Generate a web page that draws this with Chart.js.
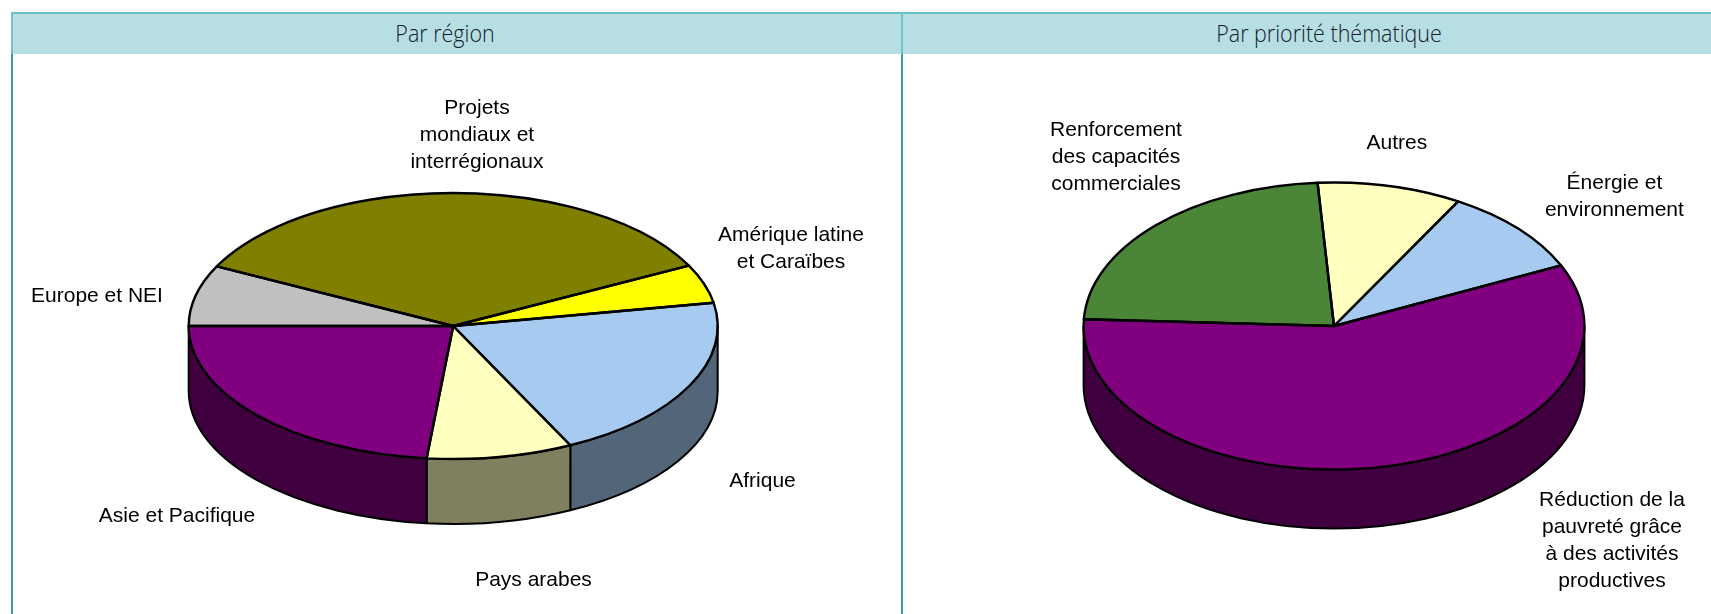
<!DOCTYPE html>
<html lang="fr">
<head>
<meta charset="utf-8">
<title>Par région / Par priorité thématique</title>
<script src="https://cdn.jsdelivr.net/npm/chart.js@4"></script>
<style>
html,body{margin:0;padding:0;width:1711px;height:614px;overflow:hidden;background:#fff}
canvas{position:absolute;left:0;top:0}
.band{position:absolute;left:11px;top:12px;width:1700px;height:42px;background:#b7dfe3}
.line{position:absolute}
.title{position:absolute;top:18px;width:300px;text-align:center;font:300 24px/30px "Open Sans",sans-serif;color:#10202a;transform:scaleX(.895);white-space:nowrap}
</style>
</head>
<body>
<div class="band"></div>
<div class="line" style="left:11px;top:12px;width:1700px;height:2px;background:#6bbfc6"></div>
<div class="line" style="left:11px;top:12px;width:2px;height:42px;background:#72c3c9"></div>
<div class="line" style="left:901px;top:12px;width:2px;height:42px;background:#72c3c9"></div>
<div class="line" style="left:11px;top:54px;width:2px;height:560px;background:#3a9ba7"></div>
<div class="line" style="left:901px;top:54px;width:2px;height:560px;background:#3a9ba7"></div>
<div class="title" style="left:295px">Par région</div>
<div class="title" style="left:1178.5px">Par priorité thématique</div>
<canvas id="regionChart" width="1711" height="614"></canvas>
<canvas id="themeChart" width="1711" height="614"></canvas>
<script>
// Chart 1 – Par région (approximate share in %)
const regionCategories = ["Europe et NEI", "Projets mondiaux et interrégionaux", "Amérique latine et Caraïbes", "Afrique", "Pays arabes", "Asie et Pacifique"];
const regionValues = [7.4, 35.1, 4.7, 20.5, 8.9, 23.4];
const regionColors = ["#c0c0c0", "#808000", "#ffff00", "#a6caf0", "#ffffc0", "#800080"];
const regionSideColors = ["#606060", "#404000", "#808000", "#536578", "#808060", "#400040"];

// Chart 2 – Par priorité thématique (approximate share in %)
const themeCategories = ["Réduction de la pauvreté grâce à des activités productives", "Renforcement des capacités commerciales", "Autres", "Énergie et environnement"];
const themeValues = [57.7, 23.2, 9.3, 9.8];
const themeColors = ["#800080", "#4a8538", "#ffffc0", "#a6caf0"];
const themeSideColors = ["#400040", "#25421c", "#808060", "#536578"];

// Layout (page pixels)
const regionLayout = {cx: 453.2, cy: 326, rx: 264.5, ry: 133, depth: 65, rotation: 270};
const themeLayout  = {cx: 1334, cy: 326, rx: 250.4, ry: 143.5, depth: 59, rotation: 65};
const regionLabels = [
  {lines: ["Projets", "mondiaux et", "interrégionaux"], x: 477, y: 108},
  {lines: ["Amérique latine", "et Caraïbes"], x: 791, y: 235},
  {lines: ["Europe et NEI"], x: 97, y: 296},
  {lines: ["Afrique"], x: 762.5, y: 481},
  {lines: ["Pays arabes"], x: 533.5, y: 580},
  {lines: ["Asie et Pacifique"], x: 177, y: 516}
];
const themeLabels = [
  {lines: ["Renforcement", "des capacités", "commerciales"], x: 1116, y: 130},
  {lines: ["Autres"], x: 1396.8, y: 143},
  {lines: ["Énergie et", "environnement"], x: 1614.4, y: 183},
  {lines: ["Réduction de la", "pauvreté grâce", "à des activités", "productives"], x: 1612, y: 500}
];
const labelFont = '21px "Liberation Sans", Arial, sans-serif';
const labelLineHeight = 27;

const pie3d = {
  id: "pie3d",
  beforeDatasetsDraw(chart, args, o) {
    const ctx = chart.ctx, arcs = chart.getDatasetMeta(0).data;
    const TAU = Math.PI * 2;
    const {cx, cy, rx, ry, depth} = o.layout;
    // the visible rim: the part of every slice on the front half of the ellipse
    arcs.forEach((arc, i) => {
      for (let n = -2; n <= 2; n++) {
        const a = Math.max(arc.startAngle + n * TAU, 0);
        const b = Math.min(arc.endAngle + n * TAU, Math.PI);
        if (b <= a) continue;
        ctx.beginPath();
        ctx.ellipse(cx, cy, rx, ry, 0, a, b);
        ctx.ellipse(cx, cy + depth, rx, ry, 0, b, a, true);
        ctx.closePath();
        ctx.fillStyle = o.sideColors[i];
        ctx.fill();
        ctx.lineWidth = 2;
        ctx.lineJoin = "round";
        ctx.strokeStyle = "#000";
        ctx.stroke();
      }
    });
    // flatten the library's circular arcs to the tilted ellipse
    ctx.save();
    ctx.translate(cx, cy);
    ctx.scale(1, ry / rx);
    ctx.translate(-cx, -cy);
  },
  afterDatasetsDraw(chart, args, o) {
    const ctx = chart.ctx, arcs = chart.getDatasetMeta(0).data;
    ctx.restore();
    const {cx, cy, rx, ry} = o.layout;
    arcs.forEach(arc => {
      ctx.beginPath();
      ctx.moveTo(cx, cy);
      ctx.ellipse(cx, cy, rx, ry, 0, arc.startAngle, arc.endAngle);
      ctx.closePath();
      ctx.lineWidth = 2.4;
      ctx.lineJoin = "round";
      ctx.strokeStyle = "#000";
      ctx.stroke();
    });
    ctx.font = labelFont;
    ctx.fillStyle = "#000";
    ctx.textAlign = "center";
    ctx.textBaseline = "middle";
    o.labels.forEach(l => l.lines.forEach((t, j) => ctx.fillText(t, l.x, l.y + j * labelLineHeight)));
  }
};

function makePie(id, categories, values, colors, sideColors, layout, labels) {
  const W = 1711, topPad = 2 * layout.cy - 614;
  const left = Math.max(2 * layout.cx - W, 0), right = Math.max(W - 2 * layout.cx, 0);
  return new Chart(document.getElementById(id), {
    type: "pie",
    data: {labels: categories, datasets: [{data: values, backgroundColor: colors, borderWidth: 0, clip: false}]},
    options: {
      responsive: false,
      animation: false,
      rotation: layout.rotation,
      radius: layout.rx,
      layout: {padding: {left, right, top: topPad, bottom: 0}},
      plugins: {
        legend: {display: false},
        tooltip: {enabled: false},
        pie3d: {layout, sideColors, labels}
      }
    },
    plugins: [pie3d]
  });
}
makePie("regionChart", regionCategories, regionValues, regionColors, regionSideColors, regionLayout, regionLabels);
makePie("themeChart", themeCategories, themeValues, themeColors, themeSideColors, themeLayout, themeLabels);
</script>
</body>
</html>
